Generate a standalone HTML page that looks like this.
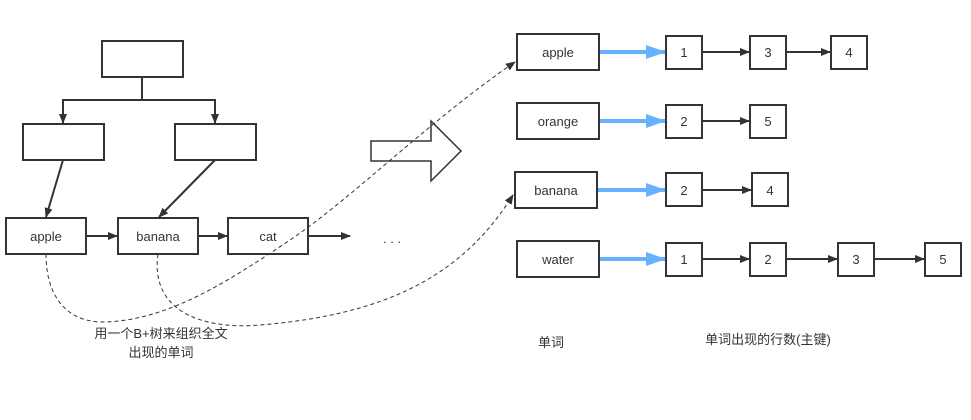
<!DOCTYPE html>
<html><head><meta charset="utf-8"><style>
html,body{margin:0;padding:0;background:#fff;}
svg text{font-family:"Liberation Sans","Noto Sans CJK SC",sans-serif;fill:#333;}
</style></head><body>
<svg width="971" height="415" viewBox="0 0 971 415" xmlns="http://www.w3.org/2000/svg">
<defs>
<marker id="a" markerWidth="10" markerHeight="8" refX="9" refY="4" orient="auto" markerUnits="userSpaceOnUse"><path d="M0,0L10,4L0,8z" fill="#333"/></marker>
<marker id="b" markerWidth="20" markerHeight="14" refX="19" refY="7" orient="auto" markerUnits="userSpaceOnUse"><path d="M0,0L20,7L0,14z" fill="#66b2ff"/></marker>
</defs>
<g fill="none" stroke="#333" stroke-width="1" stroke-dasharray="4,3">
<path d="M46,254C46,300 70,323 105,322C170,320 230,280 290,240S430,120 515,62" marker-end="url(#a)"/>
<path d="M158,254C150,310 200,330 260,325C380,315 460,280 513,195" marker-end="url(#a)"/>
</g>
<g fill="none" stroke="#333" stroke-width="2">
<rect x="102" y="41" width="81" height="36"/>
<rect x="23" y="124" width="81" height="36"/>
<rect x="175" y="124" width="81" height="36"/>
<rect x="6" y="218" width="80" height="36"/>
<rect x="118" y="218" width="80" height="36"/>
<rect x="228" y="218" width="80" height="36"/>
<rect x="517" y="34" width="82" height="36"/>
<rect x="517" y="103" width="82" height="36"/>
<rect x="515" y="172" width="82" height="36"/>
<rect x="517" y="241" width="82" height="36"/>
<rect x="666" y="36" width="36" height="33"/><rect x="750" y="36" width="36" height="33"/><rect x="831" y="36" width="36" height="33"/>
<rect x="666" y="105" width="36" height="33"/><rect x="750" y="105" width="36" height="33"/>
<rect x="666" y="173" width="36" height="33"/><rect x="752" y="173" width="36" height="33"/>
<rect x="666" y="243" width="36" height="33"/><rect x="750" y="243" width="36" height="33"/><rect x="838" y="243" width="36" height="33"/><rect x="925" y="243" width="36" height="33"/>
</g>
<g fill="none" stroke="#333" stroke-width="2">
<path d="M142,77V100H63V123" marker-end="url(#a)"/>
<path d="M142,100H215V123" marker-end="url(#a)"/>
<path d="M63,160L46,217" marker-end="url(#a)"/>
<path d="M215,160L159,217" marker-end="url(#a)"/>
<path d="M86,236H117" marker-end="url(#a)"/>
<path d="M198,236H227" marker-end="url(#a)"/>
<path d="M308,236H350" marker-end="url(#a)"/>
<path d="M702,52H749" marker-end="url(#a)"/><path d="M786,52H830" marker-end="url(#a)"/>
<path d="M702,121H749" marker-end="url(#a)"/>
<path d="M702,190H751" marker-end="url(#a)"/>
<path d="M702,259H749" marker-end="url(#a)"/><path d="M786,259H837" marker-end="url(#a)"/><path d="M874,259H924" marker-end="url(#a)"/>
</g>
<g stroke="#66b2ff" stroke-width="4" fill="none">
<path d="M600,52H665" marker-end="url(#b)"/>
<path d="M600,121H665" marker-end="url(#b)"/>
<path d="M598,190H665" marker-end="url(#b)"/>
<path d="M600,259H665" marker-end="url(#b)"/>
</g>
<path d="M371,141H431V121L461,151L431,181V161H371Z" fill="none" stroke="#333" stroke-width="1.5"/>
<g font-size="13" text-anchor="middle">
<text x="46" y="241">apple</text><text x="158" y="241">banana</text><text x="268" y="241">cat</text>
<text x="392" y="243">. . .</text>
<text x="558" y="57">apple</text><text x="558" y="126">orange</text><text x="556" y="195">banana</text><text x="558" y="264">water</text>
<text x="684" y="57">1</text><text x="768" y="57">3</text><text x="849" y="57">4</text>
<text x="684" y="126">2</text><text x="768" y="126">5</text>
<text x="684" y="195">2</text><text x="770" y="195">4</text>
<text x="684" y="264">1</text><text x="768" y="264">2</text><text x="856" y="264">3</text><text x="943" y="264">5</text>
<text x="161" y="338">用一个B+树来组织全文</text>
<text x="161" y="357">出现的单词</text>
<text x="551" y="347">单词</text>
<text x="768" y="344">单词出现的行数(主键)</text>
</g>
</svg>
</body></html>
